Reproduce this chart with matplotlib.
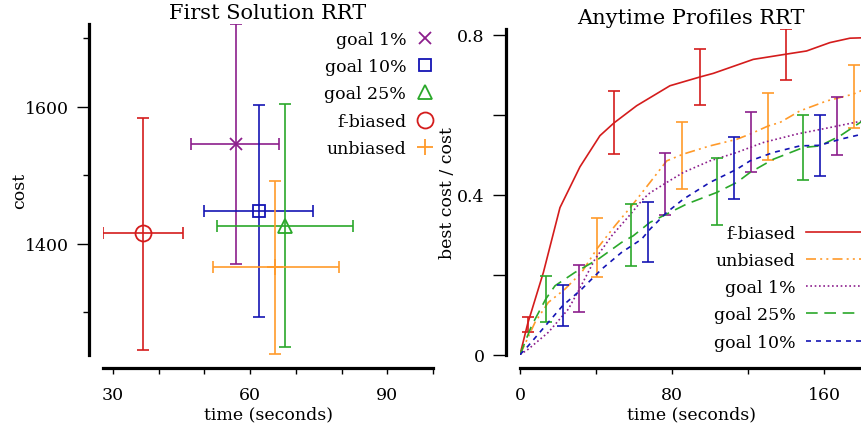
import numpy as np
import matplotlib
matplotlib.use('Agg')
import matplotlib.pyplot as plt
from matplotlib.ticker import MultipleLocator

plt.rcParams['font.family'] = ['DejaVu Serif']
plt.rcParams['font.size'] = 12.5

# ---- First Solution RRT (left panel) ----
fs_labels = ['goal 1%', 'goal 10%', 'goal 25%', 'f-biased', 'unbiased']
fs_time = [56.8, 62.0, 67.6, 36.6, 65.5]
fs_time_lo = [47.0, 49.9, 52.8, 27.8, 51.8]
fs_time_hi = [66.2, 73.8, 82.6, 45.4, 79.4]
fs_cost = [1545, 1448, 1425, 1415, 1365]
fs_cost_lo = [1370, 1293, 1249, 1244, 1238]
fs_cost_hi = [1721, 1603, 1604, 1584, 1491]

# ---- Anytime Profiles RRT (right panel) ----
fb_t = [0, 4, 12.3, 21, 31.5, 42, 49.4, 61.3, 78.8, 94.6, 101.6, 122.6, 139.8, 150.6, 162.9, 173.4, 180]
fb_v = [0, 0.077, 0.206, 0.368, 0.47, 0.548, 0.58, 0.623, 0.673, 0.695, 0.704, 0.739, 0.752, 0.76, 0.781, 0.792, 0.793]
ub_t = [0, 7.9, 14.9, 23.6, 32.4, 40.3, 49.9, 58.7, 68.3, 77.1, 85.8, 99.8, 113.9, 120.9, 130.5, 136.6, 147.1, 161.2, 175.1, 180]
ub_v = [0, 0.081, 0.131, 0.164, 0.206, 0.264, 0.3225, 0.3725, 0.431, 0.485, 0.502, 0.5225, 0.539, 0.552, 0.5725, 0.581, 0.61, 0.635, 0.652, 0.662]
g1_t = [0, 4.4, 14.9, 25.4, 31.2, 39.4, 48.2, 56.9, 64.8, 68.3, 77.1, 85.8, 99.8, 113.9, 127.9, 145.4, 162.9, 180]
g1_v = [0, 0.014, 0.056, 0.114, 0.164, 0.239, 0.2975, 0.345, 0.39, 0.405, 0.431, 0.456, 0.485, 0.506, 0.531, 0.552, 0.5685, 0.585]
g25_t = [0, 6.1, 13.5, 18.4, 28.9, 41.1, 53.4, 59.5, 68.3, 77.1, 87.6, 103.4, 113.9, 120.9, 133.1, 148.9, 157.6, 168.2, 180]
g25_v = [0, 0.0725, 0.139, 0.1725, 0.206, 0.239, 0.281, 0.2975, 0.331, 0.352, 0.377, 0.406, 0.431, 0.456, 0.489, 0.5185, 0.5225, 0.5475, 0.585]
g10_t = [0, 4.4, 14.9, 22.4, 32.4, 42.9, 53.4, 63.9, 68.3, 77.1, 85.8, 99.8, 113.9, 120.9, 133.1, 147.1, 157.6, 168.2, 180]
g10_v = [0, 0.0225, 0.081, 0.1225, 0.164, 0.214, 0.256, 0.289, 0.314, 0.356, 0.389, 0.431, 0.464, 0.485, 0.506, 0.5225, 0.524, 0.539, 0.552]

# error bars on the anytime curves: times, lower, upper
fb_eb_t = [4, 49.4, 94.6, 139.8]
fb_eb_lo = [0.058, 0.5025, 0.624, 0.6875]
fb_eb_hi = [0.095, 0.659, 0.764, 0.815]
ub_eb_t = [40.3, 85.3, 130.5, 175.5]
ub_eb_lo = [0.1935, 0.414, 0.487, 0.5685]
ub_eb_hi = [0.343, 0.5835, 0.654, 0.725]
g1_eb_t = [31.2, 76.4, 121.2, 166.4]
g1_eb_lo = [0.1075, 0.35, 0.4575, 0.5]
g1_eb_hi = [0.224, 0.5035, 0.6085, 0.645]
g25_eb_t = [13.5, 58.3, 103.3, 148.5]
g25_eb_lo = [0.0825, 0.2225, 0.325, 0.4375]
g25_eb_hi = [0.196, 0.377, 0.491, 0.6]
g10_eb_t = [22.4, 67.4, 112.5, 157.6]
g10_eb_lo = [0.071, 0.231, 0.389, 0.447]
g10_eb_hi = [0.174, 0.381, 0.544, 0.6]

RED = '#d41c1c'
ORANGE = '#ff9a2a'
PURPLE = '#8c1e8c'
GREEN = '#2aa82a'
BLUE = '#1414b4'

PX = 0.72  # points per pixel at dpi 100


def style_axes(ax, ymajor_len, yminor_len):
    ax.spines['top'].set_visible(False)
    ax.spines['right'].set_visible(False)
    for s in ('left', 'bottom'):
        ax.spines[s].set_linewidth(2.3)
    ax.spines['left'].set_position(('outward', 14 * PX))
    ax.spines['bottom'].set_position(('outward', 13 * PX))
    ax.tick_params(axis='y', which='major', length=ymajor_len * PX, width=1, pad=6)
    ax.tick_params(axis='y', which='minor', length=yminor_len * PX, width=1)
    ax.tick_params(axis='x', which='both', length=6 * PX, width=1, pad=9)


fig = plt.figure(figsize=(8.61, 4.31), dpi=100)

# Left panel
ax1 = fig.add_axes([103 / 861, 75 / 431, 330 / 861, 331 / 431])
markers = ['x', 's', '^', 'o', '+']
msizes = [8, 8, 10, 11.5, 11]
colors = [PURPLE, BLUE, GREEN, RED, ORANGE]
for i in range(len(fs_labels)):
    xerr = [[fs_time[i] - fs_time_lo[i]], [fs_time_hi[i] - fs_time[i]]]
    yerr = [[fs_cost[i] - fs_cost_lo[i]], [fs_cost_hi[i] - fs_cost[i]]]
    ax1.errorbar([fs_time[i]], [fs_cost[i]], xerr=xerr, yerr=yerr,
                 fmt='none', ecolor=colors[i], elinewidth=1.4, capsize=4,
                 capthick=1.4, alpha=0.85)
    ax1.plot([fs_time[i]], [fs_cost[i]], linestyle='none', marker=markers[i],
             markersize=msizes[i], markerfacecolor='none',
             markeredgecolor=colors[i], markeredgewidth=1.3,
             label=fs_labels[i])
ax1.set_xlim(27.8, 100)
ax1.set_ylim(1237, 1721)
ax1.xaxis.set_major_locator(MultipleLocator(30))
ax1.xaxis.set_minor_locator(MultipleLocator(10))
ax1.yaxis.set_major_locator(MultipleLocator(200))
ax1.yaxis.set_minor_locator(MultipleLocator(100))
style_axes(ax1, 12, 6)
ax1.set_title('First Solution RRT', pad=4)
ax1.set_xlabel('time (seconds)', labelpad=1.5)
ax1.set_ylabel('cost', labelpad=-2.6)
ax1.legend(loc='upper right', frameon=False, markerfirst=False,
           handlelength=1.0, handletextpad=0.6, labelspacing=0.59,
           borderaxespad=0.0, bbox_to_anchor=(1.024, 1.0))

# Right panel
ax2 = fig.add_axes([520 / 861, 75.3 / 431, 342.5 / 861, 325.7 / 431])
series = [
    ('f-biased', fb_t, fb_v, fb_eb_t, fb_eb_lo, fb_eb_hi, RED, '-'),
    ('unbiased', ub_t, ub_v, ub_eb_t, ub_eb_lo, ub_eb_hi, ORANGE, (0, (6, 2.5, 1.2, 2.5, 1.2, 2.5))),
    ('goal 1%', g1_t, g1_v, g1_eb_t, g1_eb_lo, g1_eb_hi, PURPLE, (0, (1, 1.6))),
    ('goal 25%', g25_t, g25_v, g25_eb_t, g25_eb_lo, g25_eb_hi, GREEN, (0, (7, 4))),
    ('goal 10%', g10_t, g10_v, g10_eb_t, g10_eb_lo, g10_eb_hi, BLUE, (0, (3, 3))),
]
for name, t, v, et, elo, ehi, col, ls in series:
    ax2.plot(t, v, color=col, linestyle=ls, linewidth=1.2, label=name)
    mid = np.interp(et, t, v)
    yerr = [mid - np.array(elo), np.array(ehi) - mid]
    ax2.errorbar(et, mid, yerr=yerr, fmt='none', ecolor=col, elinewidth=1.4,
                 capsize=4, capthick=1.4, alpha=0.85)
ax2.set_xlim(0, 180)
ax2.set_ylim(0, 0.815)
ax2.xaxis.set_major_locator(MultipleLocator(80))
ax2.xaxis.set_minor_locator(MultipleLocator(40))
ax2.yaxis.set_major_locator(MultipleLocator(0.4))
ax2.yaxis.set_minor_locator(MultipleLocator(0.2))
ax2.yaxis.set_major_formatter(plt.FuncFormatter(lambda y, p: '0' if y == 0 else '{:g}'.format(y)))
style_axes(ax2, 13, 13)
ax2.set_title('Anytime Profiles RRT', pad=4)
ax2.set_xlabel('time (seconds)', labelpad=1.5)
ax2.set_ylabel('best cost / cost', labelpad=1.0)
ax2.legend(loc='lower right', frameon=False, markerfirst=False,
           handlelength=4.0, handletextpad=0.6, labelspacing=0.59,
           borderaxespad=0.0, bbox_to_anchor=(1.058, -0.009))

fig.savefig('out.png', dpi=100)
